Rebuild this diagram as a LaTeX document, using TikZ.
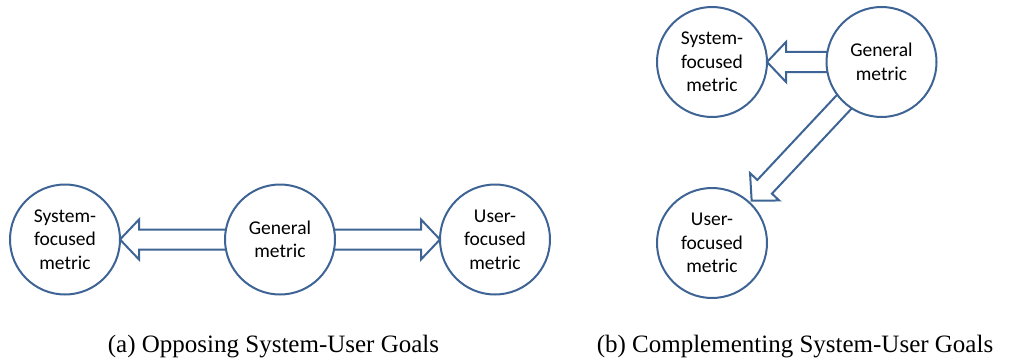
\documentclass[tikz,border=0pt]{standalone}
\usepackage{fontspec}
\setmainfont{Liberation Serif}
\newfontfamily\nodefont{Carlito}
\usetikzlibrary{calc}
\definecolor{outl}{HTML}{3D6494}
\tikzset{
  metric/.style={circle, draw=outl, line width=2pt, fill=white, minimum size=110pt, inner sep=0pt,
    align=center, font=\nodefont\fontsize{19.5}{23.5}\selectfont},
  barrow/.style={draw=outl, line width=2pt, fill=white, line join=miter},
  captionnode/.style={anchor=base, font=\fontsize{25}{30}\selectfont}
}
% block arrow from node #1 (center) to tip #2 on node boundary
\newcommand\blockarrow[2]{%
  \coordinate (hb) at ($(#2)!19pt!(#1)$);
  \draw[barrow] ($(#1)!10pt!-90:(hb)$) -- ($(hb)!10pt!-90:(#2)$) -- ($(hb)!20pt!-90:(#2)$) -- (#2)
    -- ($(hb)!20pt!90:(#2)$) -- ($(hb)!10pt!90:(#2)$) -- ($(#1)!10pt!90:(hb)$) -- cycle;
}
\begin{document}
\begin{tikzpicture}[x=1pt,y=-1pt]
\useasboundingbox (0,0) rectangle (1014,361);
% panel (a)
\coordinate (aS) at (65,239.5);
\coordinate (aG) at (280,239.5);
\coordinate (aU) at (495,239.5);
\coordinate (aSt) at ($(aS)!55pt!(aG)$);
\coordinate (aUt) at ($(aU)!55pt!(aG)$);
\blockarrow{aG}{aSt}
\blockarrow{aG}{aUt}
\node[metric] (asys) at (aS) {System-\\focused\\metric};
\node[metric] (agen) at (aG) {General\\metric};
\node[metric] (ausr) at (aU) {User-\\focused\\metric};
% panel (b)
\coordinate (bS) at (712,62);
\coordinate (bG) at (881.5,62);
\coordinate (bU) at (712,243);
\coordinate (bSt) at ($(bS)!55pt!(bG)$);
\coordinate (bUt) at ($(bU)!58pt!(bG)$);
\blockarrow{bG}{bSt}
\blockarrow{bG}{bUt}
\node[metric] (bsys) at (bS) {System-\\focused\\metric};
\node[metric] (bgen) at (bG) {General\\metric};
\node[metric] (busr) at (bU) {User-\\focused\\metric};
% captions
\node[captionnode] (capa) at (273.5,352) {(a) Opposing System-User Goals};
\node[captionnode] (capb) at (795,352) {(b) Complementing System-User Goals};
\end{tikzpicture}
\end{document}
